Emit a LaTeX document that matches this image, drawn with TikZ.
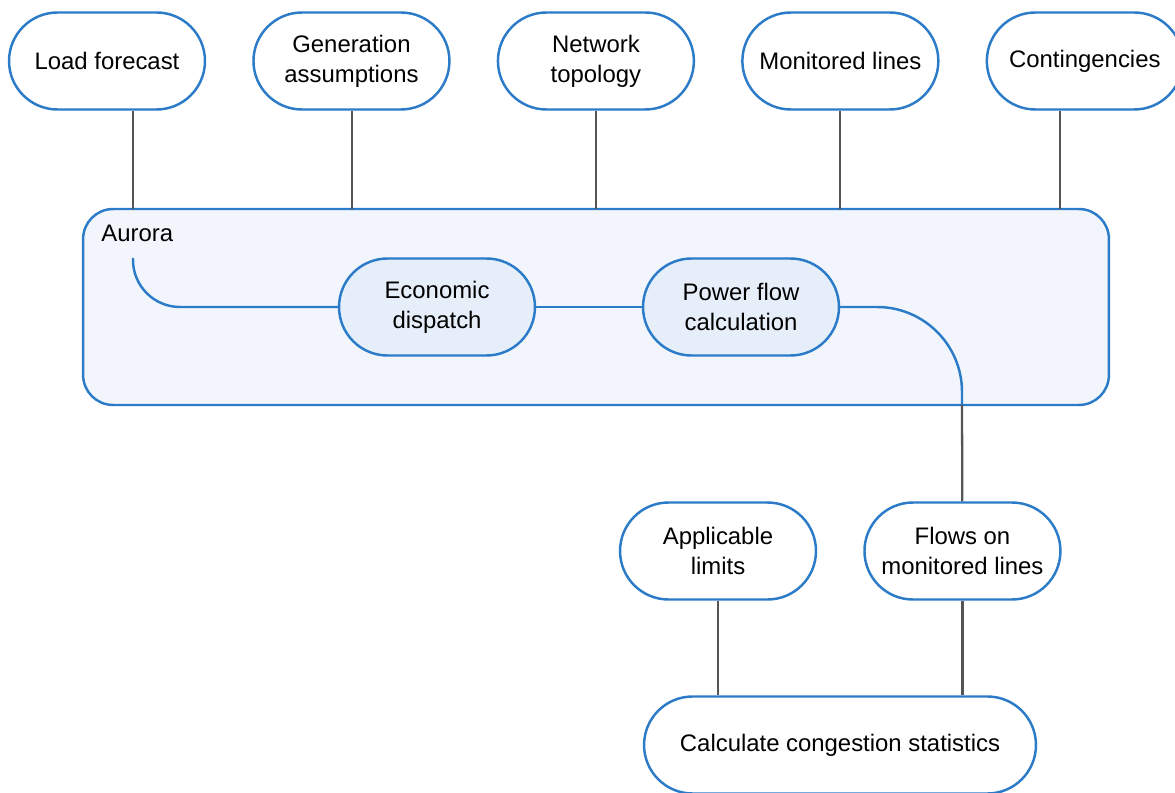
\documentclass[tikz,border=0pt]{standalone}
\usepackage{fontspec}
\setmainfont{Liberation Sans}
\usepackage{xcolor}
\usetikzlibrary{positioning}

\definecolor{edgeblue}{HTML}{2B7BC8}
\definecolor{wiregrey}{HTML}{555555}
\definecolor{aurorafill}{HTML}{F2F6FC}
\definecolor{stepfill}{HTML}{E6EEFA}

\begin{document}
\begin{tikzpicture}[x=0.02cm, y=-0.02cm, node distance=4.89cm,
  pill/.style={rectangle, draw=edgeblue, line width=1.4pt, fill=white,
    rounded corners=0.97cm, minimum width=3.92cm, minimum height=1.94cm,
    align=center, font=\fontsize{13.6}{17}\selectfont},
  stepbox/.style={pill, fill=stepfill},
  wire/.style={draw=wiregrey, line width=1.3pt},
  flow/.style={draw=edgeblue, line width=1.4pt}]
  \useasboundingbox (0,0) rectangle (1175,793);

  % Aurora container
  \node (aurora) [rectangle, draw=edgeblue, line width=1.4pt, fill=aurorafill,
    rounded corners=0.6cm, minimum width=20.52cm, minimum height=3.92cm] at (596,307) {};
  \node (auroralabel) [anchor=west, inner sep=0pt, font=\fontsize{13.6}{16}\selectfont] at (101,233) {Aurora};

  % inputs
  \node (load) [pill] at (107,61) {Load forecast};
  \node (gen) [pill, right of=load] {Generation\\assumptions};
  \node (topo) [pill, right of=gen] {Network\\topology};
  \node (mon) [pill, right of=topo] {Monitored lines};
  \node (cont) [pill, right of=mon] {Contingencies};

  \coordinate (a1) at (133,209);
  \coordinate (a2) at (352,209);
  \coordinate (a3) at (596,209);
  \coordinate (a4) at (840,209);
  \coordinate (a5) at (1060,209);

  \draw[wire] (load.south -| a1) -- (a1);
  \draw[wire] (gen.south -| a2) -- (a2);
  \draw[wire] (topo.south -| a3) -- (a3);
  \draw[wire] (mon.south -| a4) -- (a4);
  \draw[wire] (cont.south -| a5) -- (a5);

  % inside Aurora
  \node (dispatch) [stepbox] at (437,307) {Economic\\dispatch};
  \node (calc) [stepbox] at (741,307) {Power flow\\calculation};

  \coordinate (tap) at (133,258);
  \coordinate (bend) at (962,405);

  \draw[flow, rounded corners=0.94cm] (tap) |- (dispatch.west);
  \draw[flow] (dispatch) -- (calc);
  \draw[flow, rounded corners=1.7cm] (calc.east) -| (bend);

  % outputs
  \node (limits) [pill] at (718,551) {Applicable\\limits};
  \node (flows) [pill, right of=limits] {Flows on\\monitored lines};
  \node (congest) [pill, minimum width=7.84cm] at (840,745) {Calculate congestion statistics};

  \draw[wire] (bend) -- (flows);
  \draw[wire] (limits) -- (limits |- congest.north);
  \draw[wire] (flows) -- (flows |- congest.north);

\end{tikzpicture}
\end{document}
